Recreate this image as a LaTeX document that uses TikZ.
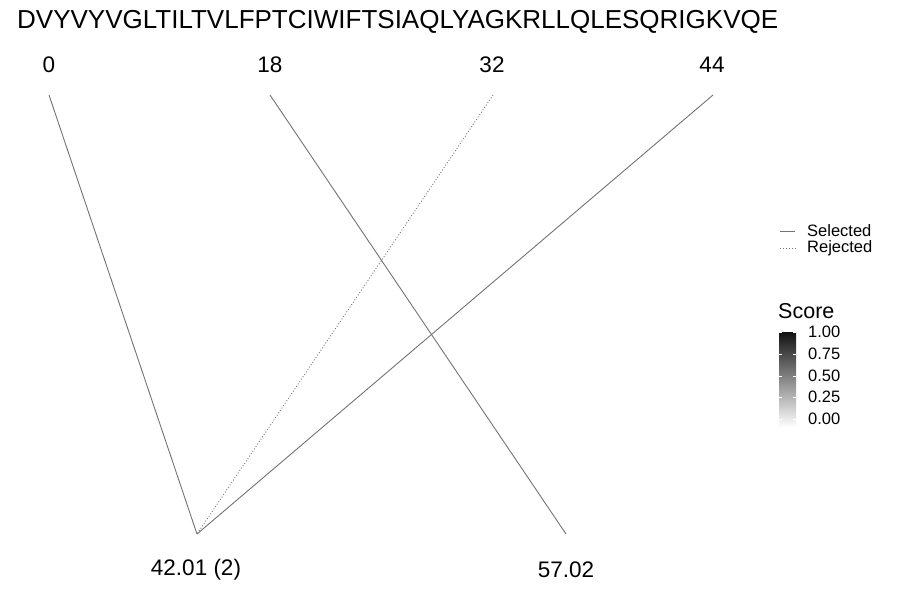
\documentclass[tikz,border=0pt]{standalone}
\usepackage{fontspec}
\setmainfont{Liberation Sans}
\begin{document}
\begin{tikzpicture}[x=1pt,y=-1pt,
  conn/.style={draw=black!55,line width=0.9pt},
  rej/.style={draw=black!55,line width=0.9pt,dotted},
  lab/.style={inner sep=0pt,font=\fontsize{22.5}{23}\selectfont},
  leg/.style={inner sep=0pt,anchor=west,font=\fontsize{16.5}{17}\selectfont},
  tick/.style={inner sep=0pt,anchor=west,font=\fontsize{16.5}{17}\selectfont}]
\useasboundingbox (0,0) rectangle (900,600);
\node[inner sep=0pt,anchor=west,font=\fontsize{26}{26}\selectfont] (title) at (17,22) {DVYVYVGLTILTVLFPTCIWIFTSIAQLYAGKRLLQLESQRIGKVQE};
\node[lab] (l0) at (49,65) {0};
\node[lab] (l18) at (270,65) {18};
\node[lab] (l32) at (492,65) {32};
\node[lab] (l44) at (712,65) {44};
\node[lab] (b1) at (196,570) {42.01 (2)};
\node[lab] (b2) at (566,570) {57.02};
\coordinate (t0) at (49,95);
\coordinate (t18) at (270,95);
\coordinate (t32) at (493,95);
\coordinate (t44) at (713,95);
\coordinate (p1) at (197,534);
\coordinate (p2) at (566,534);
\draw[conn] (t0) -- (p1);
\draw[conn] (t18) -- (p2);
\draw[rej] (t32) -- (p1);
\draw[conn] (t44) -- (p1);
% legend
\coordinate (ls1) at (780,231);
\coordinate (le1) at (795,231);
\coordinate (ls2) at (780,248);
\coordinate (le2) at (795,248);
\draw[conn] (ls1) -- (le1);
\draw[rej] (ls2) -- (le2);
\node[leg] (sel) at (807,231) {Selected};
\node[leg] (rejt) at (807,248.5) {Rejected};
\node[inner sep=0pt,anchor=west,font=\fontsize{21.5}{22}\selectfont] (score) at (778,311) {Score};
\shade[top color=black!93,bottom color=white] (779,332) rectangle (796,427);
\foreach \y/\t in {332/1.00,354/0.75,376/0.50,397/0.25,419/0.00}{
  \draw[white,line width=0.5pt] (779,\y) -- (782,\y);
  \draw[white,line width=0.5pt] (793,\y) -- (796,\y);
  \node[tick] at (808,\y) {\t};
}
\end{tikzpicture}
\end{document}
